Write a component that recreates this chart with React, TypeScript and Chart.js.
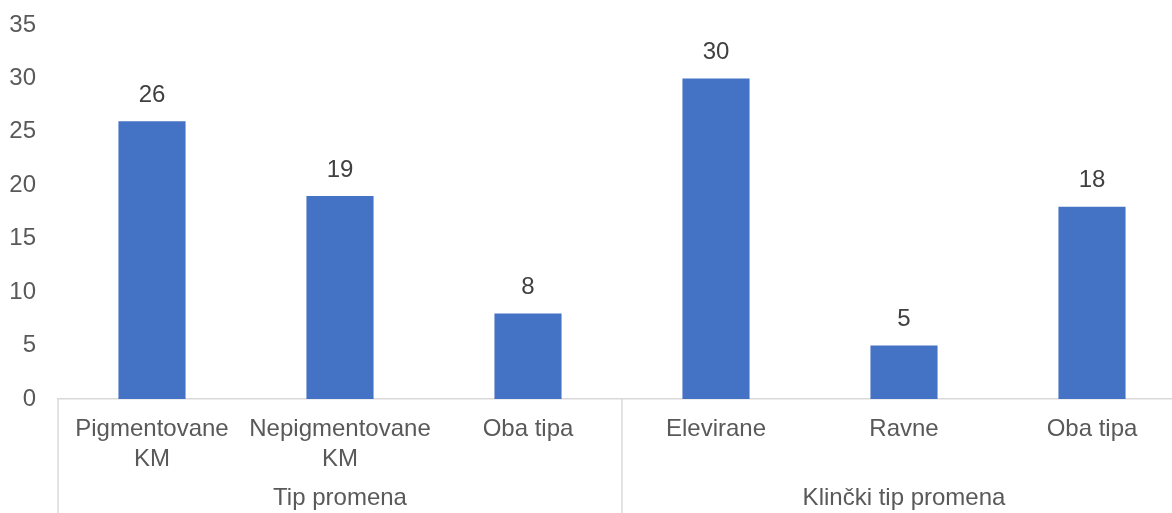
import React, { useEffect, useRef } from "react";
import { Chart, registerables } from "chart.js";

Chart.register(...registerables);

const categories: (string | string[])[] = [
  ["Pigmentovane", "KM"],
  ["Nepigmentovane", "KM"],
  "Oba tipa",
  "Elevirane",
  "Ravne",
  "Oba tipa",
];
const values = [26, 19, 8, 30, 5, 18];
const groupNames = ["Tip promena", "Klinčki tip promena"];
const groupSizes = [3, 3];
const yTicks = [0, 5, 10, 15, 20, 25, 30, 35];

// group labels placed at the centre category of each group
const groupAxisLabels: string[] = (() => {
  const out: string[] = [];
  groupSizes.forEach((n, gi) => {
    for (let i = 0; i < n; i++) out.push(i === Math.floor(n / 2) ? groupNames[gi] : "");
  });
  return out;
})();

const FONT = "'Liberation Sans', Arial, sans-serif";

const separatorPlugin = {
  id: "groupSeparators",
  afterDraw(chart: any) {
    const x = chart.scales.x;
    const ctx = chart.ctx;
    const half = (x.getPixelForValue(1) - x.getPixelForValue(0)) / 2;
    const bounds: number[] = [];
    let idx = 0;
    bounds.push(x.getPixelForValue(0) - half);
    groupSizes.forEach((n) => {
      idx += n;
      bounds.push(x.getPixelForValue(idx - 1) + half);
    });
    ctx.save();
    ctx.strokeStyle = "#D9D9D9";
    ctx.lineWidth = 1.5;
    bounds.forEach((b) => {
      ctx.beginPath();
      ctx.moveTo(b, chart.chartArea.bottom);
      ctx.lineTo(b, chart.height);
      ctx.stroke();
    });
    ctx.restore();
  },
};

const dataLabelPlugin = {
  id: "barValueLabels",
  afterDatasetsDraw(chart: any) {
    const ctx = chart.ctx;
    const meta = chart.getDatasetMeta(0);
    ctx.save();
    ctx.font = `24px ${FONT}`;
    ctx.fillStyle = "#404040";
    ctx.textAlign = "center";
    ctx.textBaseline = "middle";
    meta.data.forEach((bar: any, i: number) => {
      ctx.fillText(String(values[i]), bar.x, bar.y - 26);
    });
    ctx.restore();
  },
};

export default function App() {
  const ref = useRef<HTMLCanvasElement | null>(null);

  useEffect(() => {
    if (!ref.current) return;
    const chart = new Chart(ref.current, {
      type: "bar",
      data: {
        labels: categories as any,
        datasets: [
          {
            data: values,
            backgroundColor: "#4472C4",
            borderWidth: 0,
            barPercentage: 0.357,
            categoryPercentage: 1,
            xAxisID: "x",
          },
        ],
      },
      options: {
        animation: false,
        responsive: false,
        devicePixelRatio: 1,
        layout: { padding: { left: 0, right: 2, top: 25, bottom: 0 } },
        plugins: {
          legend: { display: false },
          tooltip: { enabled: false },
        },
        scales: {
          x: {
            type: "category",
            position: "bottom",
            offset: true,
            grid: { display: false, drawTicks: false },
            border: { display: true, color: "#D9D9D9", width: 1.5 },
            ticks: {
              autoSkip: false,
              maxRotation: 0,
              minRotation: 0,
              padding: 15,
              color: "#595959",
              font: { family: FONT, size: 24, lineHeight: 1.25 },
            },
            afterFit: (axis: any) => {
              axis.height = 75;
            },
          },
          x2: {
            type: "category",
            position: "bottom",
            labels: groupAxisLabels,
            offset: true,
            grid: { display: false, drawTicks: false },
            border: { display: false },
            ticks: {
              autoSkip: false,
              maxRotation: 0,
              minRotation: 0,
              padding: 9,
              color: "#595959",
              font: { family: FONT, size: 24, lineHeight: 1.25 },
            },
            afterFit: (axis: any) => {
              axis.height = 39;
            },
          },
          y: {
            min: 0,
            max: 35,
            grid: { display: false, drawTicks: false },
            border: { display: false },
            afterBuildTicks: (axis: any) => {
              axis.ticks = yTicks.map((v) => ({ value: v }));
            },
            ticks: {
              padding: 22,
              color: "#595959",
              font: { family: FONT, size: 24 },
            },
            afterFit: (axis: any) => {
              axis.width = 58;
              axis.paddingTop = 0;
              axis.paddingBottom = 0;
            },
          },
        },
      },
      plugins: [separatorPlugin, dataLabelPlugin],
    } as any);
    return () => chart.destroy();
  }, []);

  return (
    <div
      style={{
        position: "fixed",
        left: 0,
        top: 0,
        width: 1172,
        height: 513,
        overflow: "hidden",
        background: "#ffffff",
      }}
    >
      <canvas ref={ref} width={1188} height={513} style={{ display: "block" }} />
    </div>
  );
}
